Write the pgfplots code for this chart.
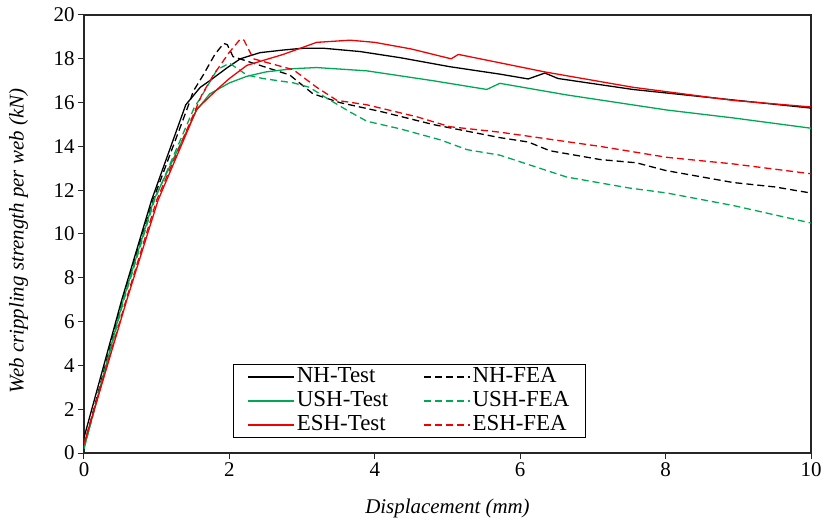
\documentclass[border=0pt]{standalone}
\usepackage{pgfplots}
\pgfplotsset{compat=1.18}
\usepackage{fontspec}
\setmainfont{Liberation Serif}

\definecolor{testgreen}{RGB}{0,168,84}
\definecolor{testred}{RGB}{240,0,0}

\begin{document}
\begin{tikzpicture}
    \begin{axis}[
        scale only axis, width=727bp, height=438bp,
        xmin=0, xmax=10, ymin=0, ymax=20,
        xtick={0,2,...,10}, ytick={0,2,...,20},
        tick pos=left, tick align=outside, major tick length=6bp,
        axis line style={line width=1.2bp, black!85},
        every tick/.style={line width=1bp, black!85},
        /pgf/number format/assume math mode=true,
        tick label style={font=\fontsize{21}{25}\selectfont},
        label style={font=\fontsize{21}{25}\selectfont\itshape},
        xlabel={Displacement (mm)},
        ylabel={Web crippling strength per web (kN)},
        xlabel style={at={(axis description cs:0.5,-0.126)}, anchor=center},
        ylabel style={at={(axis description cs:-0.09,0.484)}, anchor=center},
        legend columns=2,
        legend cell align=left,
        legend image code/.code={\draw[#1, line width=1.3bp] (0bp,0bp) -- (46bp,0bp);},
        legend style={font=\fontsize{23}{25}\selectfont,
            at={(0.205,0.034)}, anchor=south west,
            draw=black, line width=1.2bp, inner xsep=14bp, inner ysep=3bp,
            nodes={inner ysep=0bp, inner xsep=2bp, text height=15bp, text depth=4bp},
            row sep=5bp,
            /tikz/every even column/.append style={column sep=33bp}},
        every axis plot/.append style={line width=1.3bp, line join=round},
    ]
        % NH-Test
        \addplot[black] coordinates {
            (0,0.7) (0.52,7.0) (0.93,11.55) (1.4,15.9) (1.6,16.7)
            (1.73,17.0) (1.96,17.57) (2.15,18.0) (2.42,18.28) (2.74,18.4)
            (3.0,18.48) (3.3,18.48) (3.8,18.33) (4.35,18.05) (5.03,17.64)
            (5.72,17.3) (6.11,17.08) (6.34,17.35) (6.52,17.1) (7.55,16.6)
            (8.93,16.12) (10,15.75)};
        % NH-FEA
        \addplot[black, dash pattern=on 7bp off 4bp] coordinates {
            (0,0.3) (0.53,7.0) (0.95,11.55) (1.45,16.0) (1.5,16.5)
            (1.64,17.26) (1.8,18.2) (1.92,18.7) (1.97,18.65) (2.05,18.1)
            (2.42,17.7) (2.83,17.26) (3.15,16.4) (3.52,16.0) (4.11,15.57)
            (4.8,15.0) (5.72,14.4) (6.11,14.2) (6.41,13.8) (7.1,13.4)
            (7.6,13.25) (8.0,12.9) (8.93,12.35) (9.5,12.15) (10,11.87)};
        % USH-Test
        \addplot[testgreen] coordinates {
            (0,0.2) (0.54,7.0) (0.96,11.55) (1.55,15.66) (1.73,16.4)
            (2.0,16.9) (2.24,17.2) (2.5,17.4) (2.88,17.55) (3.2,17.6)
            (3.89,17.45) (4.8,17.0) (5.54,16.6) (5.72,16.88) (6.64,16.35)
            (8.02,15.66) (8.93,15.3) (10,14.83)};
        % USH-FEA
        \addplot[testgreen, dash pattern=on 7bp off 4bp] coordinates {
            (0,0.2) (0.55,7.0) (0.97,11.55) (1.52,15.8) (1.6,16.2)
            (1.83,17.5) (2.0,17.8) (2.24,17.26) (2.46,17.1) (2.88,16.9)
            (3.1,16.7) (3.34,16.2) (3.66,15.57) (3.89,15.15) (4.35,14.8)
            (4.9,14.3) (5.27,13.85) (5.72,13.6) (6.64,12.6) (7.5,12.1)
            (8.02,11.87) (8.93,11.3) (10,10.5)};
        % ESH-Test
        \addplot[testred] coordinates {
            (0,0.4) (0.59,7.0) (1.02,11.55) (1.55,15.7) (1.83,16.6)
            (2.0,17.1) (2.24,17.7) (2.74,18.2) (3.2,18.75) (3.66,18.85)
            (4.0,18.75) (4.5,18.45) (5.05,18.0) (5.15,18.2) (6.34,17.4)
            (7.55,16.7) (8.93,16.1) (10,15.8)};
        % ESH-FEA
        \addplot[testred, dash pattern=on 7bp off 4bp] coordinates {
            (0,0.4) (0.58,7.0) (1.0,11.55) (1.55,15.8) (1.62,16.35)
            (1.78,17.26) (2.0,18.3) (2.15,18.9) (2.2,18.85) (2.33,18.0)
            (2.88,17.5) (3.2,16.7) (3.48,16.1) (3.89,15.9) (4.58,15.35)
            (5.03,14.9) (5.72,14.65) (7.1,14.0) (8.02,13.5) (8.93,13.2)
            (10,12.75)};
        \legend{NH-Test, NH-FEA, USH-Test, USH-FEA, ESH-Test, ESH-FEA}
    \end{axis}
    \pgfresetboundingbox
    \path[use as bounding box]
        ([shift={(-84bp,-73bp)}]current axis.south west) rectangle
        ([shift={(740bp,453bp)}]current axis.south west);
\end{tikzpicture}
\end{document}
